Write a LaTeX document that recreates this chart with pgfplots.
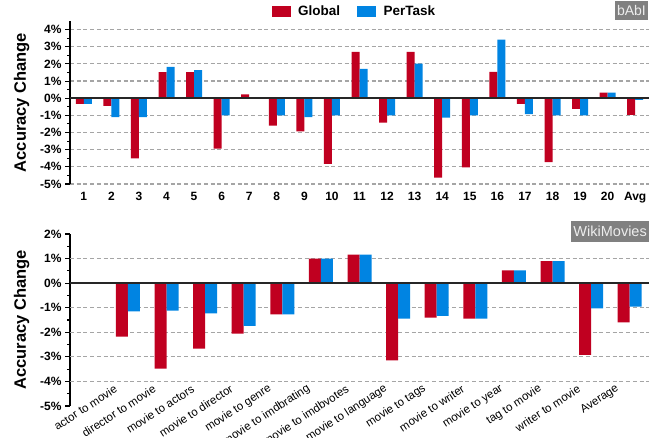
\documentclass[border=0pt]{standalone}
\usepackage{pgfplots}
\pgfplotsset{compat=1.18}
\usepackage{fontspec}
\setmainfont{Liberation Sans}
\definecolor{cred}{RGB}{192,0,32}
\definecolor{cblue}{RGB}{0,132,226}
\definecolor{gridgray}{RGB}{165,165,165}
\definecolor{boxgray}{RGB}{128,128,128}
\pgfplotsset{
 common/.style={
   scale only axis, width=579pt,
   axis x line*=bottom, axis y line*=left,
   x axis line style={draw=none},
   y axis line style={-, line width=1.3pt, black},
   xtick style={draw=none},
   ytick style={line width=1.1pt, black},
   tick align=outside,
   major tick length=5pt, minor tick length=3pt,
   minor y tick num=1,
   ybar=0pt,
   major grid style={dashed, dash pattern=on 4pt off 2.7pt, line width=1.2pt, gridgray},
   yticklabel style={font=\fontsize{12}{12}\selectfont\bfseries},
   ylabel={Accuracy Change},
   ylabel style={font=\fontsize{16.5}{16.5}\selectfont\bfseries, at={(axis description cs:-0.0834,0.5)}, anchor=center},
 }
}
\begin{document}
\begin{tikzpicture}
\useasboundingbox (0,0) rectangle (670pt,437pt);
% bAbI
\begin{axis}[common, at={(70pt,253pt)}, anchor=south west, height=163pt,
  xmin=-0.5, xmax=20.5, ymin=-5, ymax=4.5,
  bar width=8pt,
  ytick={-5,-4,-3,-2,-1,0,1,2,3,4},
  yticklabels={-5\%,-4\%,-3\%,-2\%,-1\%,0\%,1\%,2\%,3\%,4\%},
  ymajorgrids,
  xtick={0,...,20},
  xticklabels={1,2,3,4,5,6,7,8,9,10,11,12,13,14,15,16,17,18,19,20,Avg},
  xticklabel style={font=\fontsize{12}{12}\selectfont\bfseries},
  legend style={at={(0.491,1.061)}, anchor=center, draw=none, fill=none, legend columns=2,
    font=\fontsize{13.5}{13.5}\selectfont\bfseries,
    /tikz/every odd column/.append style={column sep=5.5pt},
    /tikz/every even column/.append style={column sep=15pt}},
  legend image code/.code={\fill[#1] (0pt,-5.5pt) rectangle (19pt,5.5pt);},
]
\addplot[fill=cred, draw=none] coordinates {
(0,-0.33) (1,-0.45) (2,-3.5) (3,1.52) (4,1.52) (5,-2.94) (6,0.23) (7,-1.6) (8,-1.93) (9,-3.83)
(10,2.7) (11,-1.42) (12,2.7) (13,-4.63) (14,-4.03) (15,1.54) (16,-0.33) (17,-3.73) (18,-0.62) (19,0.33) (20,-0.97)};
\addplot[fill=cblue, draw=none] coordinates {
(0,-0.33) (1,-1.1) (2,-1.1) (3,1.83) (4,1.63) (5,-1.0) (6,0) (7,-1.0) (8,-1.1) (9,-1.0)
(10,1.71) (11,-1.0) (12,2.02) (13,-1.13) (14,-1.0) (15,3.42) (16,-0.93) (17,-1.0) (18,-1.0) (19,0.33) (20,-0.1)};
\legend{Global,PerTask}
\draw[line width=1.5pt, black!85] (-0.5,0) -- (20.5,0);
\end{axis}
% WikiMovies
\begin{axis}[common, at={(70pt,31pt)}, anchor=south west, height=172pt,
  xmin=-1.5, xmax=13.5, ymin=-5, ymax=2,
  bar width=12pt,
  ytick={-5,-4,-3,-2,-1,0,1,2},
  yticklabels={-5\%,-4\%,-3\%,-2\%,-1\%,0\%,1\%,2\%},
  extra y ticks={-4,-3,-2,-1,1},
  extra y tick labels={},
  extra y tick style={ymajorgrids},
  xtick={0,...,13},
  xticklabels={actor to movie,director to movie,movie to actors,movie to director,movie to genre,movie to imdbrating,movie to imdbvotes,movie to language,movie to tags,movie to writer,movie to year,tag to movie,writer to movie,Average},
  xticklabel style={font=\fontsize{11.5}{11.5}\selectfont, rotate=33, anchor=east, xshift=6pt, yshift=26pt},
]
\addplot[fill=cred, draw=none] coordinates {
(0,-2.18) (1,-3.48) (2,-2.67) (3,-2.05) (4,-1.27) (5,1.0) (6,1.16) (7,-3.14) (8,-1.40) (9,-1.44) (10,0.52) (11,0.9) (12,-2.92) (13,-1.6)};
\addplot[fill=cblue, draw=none] coordinates {
(0,-1.15) (1,-1.12) (2,-1.23) (3,-1.74) (4,-1.27) (5,1.0) (6,1.16) (7,-1.44) (8,-1.33) (9,-1.44) (10,0.52) (11,0.9) (12,-1.03) (13,-0.96)};
\draw[line width=1.5pt, black!85] (-1.5,0) -- (13.5,0);
\end{axis}
\node[fill=boxgray, text=white!93!black, font=\fontsize{14}{14}\selectfont, anchor=north east, inner xsep=2pt, inner ysep=0pt, minimum height=19pt] at (648pt,436pt) {bAbI};
\node[fill=boxgray, text=white!93!black, font=\fontsize{14.5}{14.5}\selectfont, anchor=north east, inner xsep=2pt, inner ysep=0pt, minimum height=21pt] at (649pt,216pt) {WikiMovies};
\end{tikzpicture}
\end{document}
